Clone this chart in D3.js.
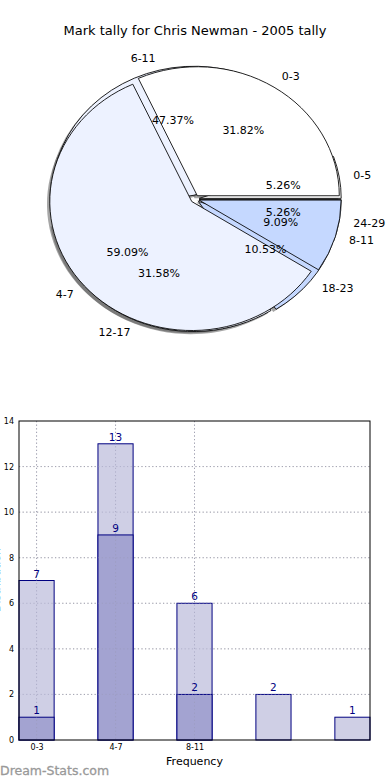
<!DOCTYPE html>
<html><head><meta charset="utf-8">
<script src="https://cdn.jsdelivr.net/npm/d3@7"></script>
<style>body{margin:0;background:#fff}svg{display:block;font-family:"DejaVu Sans",sans-serif}</style>
</head><body><svg id="c" width="390" height="780"></svg>
<script>
const title = "Mark tally for Chris Newman - 2005 tally";
const pieALabels = ["0-3","4-7","8-11"];
const pieAValues = [7,13,2];
const pieAColors = ["#ffffff","#edf2ff","#c5d8ff"];
const pieBLabels = ["0-5","6-11","12-17","18-23","24-29"];
const pieBValues = [1,9,6,2,1];
const pieBColors = ["#ffffff","#edf2ff","#edf2ff","#c5d8ff","#c5d8ff"];

const barCategories = ["0-3","4-7","8-11","",""];
const barLight = [7,13,6,2,1];
const barDark = [1,9,2];
const yTicks = [0,2,4,6,8,10,12,14];
const xLabel = "Frequency";
const yLabel = "Distribution";
const watermark = "Dream-Stats.com";

const svg = d3.select("#c");
svg.append("text").attr("x",195).attr("y",35).attr("text-anchor","middle")
  .attr("font-size",13).text(title);

// ---- pies ----
const cx=195, cy=199, rx=142, ry=129, R=100;
const sx=rx/R, sy=ry/R;
const arc = d3.arc().innerRadius(0).outerRadius(R);
function pieData(vals, explode){
  const total=d3.sum(vals);
  return d3.pie().sort(null).startAngle(Math.PI/2).endAngle(Math.PI/2-2*Math.PI)(vals)
    .map(d=>{
      const mid=(d.startAngle+d.endAngle)/2;
      const th=Math.PI/2-mid;
      return Object.assign(d,{th, pct:d.value/total, ox:explode*rx*Math.cos(th), oy:-explode*ry*Math.sin(th)});
    });
}
const dA = pieData(pieAValues,0.03);
const dB = pieData(pieBValues,0.03);
const pg = svg.append("g");
[dB,dA].forEach((ds)=>{
  ds.forEach((d,i)=>{
    pg.append("path").attr("d",arc(d))
      .attr("transform",`translate(${cx+d.ox-2.8},${cy+d.oy+2.6}) scale(${sx},${sy})`)
      .attr("fill","#4d4d4d").attr("fill-opacity",0.5);
  });
});
function drawPie(ds, colors){
  ds.forEach((d,i)=>{
    pg.append("path").attr("d",arc(d))
      .attr("transform",`translate(${cx+d.ox},${cy+d.oy}) scale(${sx},${sy})`)
      .attr("fill",colors[i]).attr("stroke","#000").attr("stroke-width",1/sx*0.9)
      .attr("stroke-linejoin","round");
  });
}
drawPie(dB,pieBColors);
drawPie(dA,pieAColors);
function labels(ds, labs){
  ds.forEach((d,i)=>{
    const x=cx+d.ox+1.1*rx*Math.cos(d.th), y=cy+d.oy-1.1*ry*Math.sin(d.th);
    svg.append("text").attr("x",x).attr("y",y).attr("dy","0.35em")
      .attr("text-anchor",Math.cos(d.th)>0?"start":"end").attr("font-size",11).text(labs[i]);
    const px=cx+d.ox+0.6*rx*Math.cos(d.th), py=cy+d.oy-0.6*ry*Math.sin(d.th);
    svg.append("text").attr("x",px).attr("y",py).attr("dy","0.35em")
      .attr("text-anchor","middle").attr("font-size",11).text((d.pct*100).toFixed(2)+"%");
  });
}
labels(dB,pieBLabels);
labels(dA,pieALabels);

// ---- bars ----
const L=19,Rr=370,T=421,B=740, bw=0.445;
const x = d3.scaleLinear().domain([0,4.445]).range([L,Rr]);
const y = d3.scaleLinear().domain([0,14]).range([B,T]);
const bg = svg.append("g");
bg.selectAll(".gy").data(yTicks.slice(1,-1)).join("line")
  .attr("x1",L).attr("x2",Rr).attr("y1",d=>y(d)).attr("y2",d=>y(d))
  .attr("stroke","#b0b0b0").attr("stroke-dasharray","1.2,2.4");
const xt = barCategories.map((c,i)=>({c,pos:i+bw/2})).filter(d=>d.c);
bg.selectAll(".gx").data(xt).join("line")
  .attr("x1",d=>x(d.pos)).attr("x2",d=>x(d.pos)).attr("y1",T).attr("y2",B)
  .attr("stroke","#b0b0b0").attr("stroke-dasharray","1.2,2.4");
bg.selectAll(".bl").data(barLight).join("rect")
  .attr("x",(d,i)=>x(i)).attr("width",x(bw)-x(0)).attr("y",d=>y(d)).attr("height",d=>B-y(d))
  .attr("fill","#ccccE4").attr("fill-opacity",0.95).attr("stroke","#000080").attr("stroke-width",1);
bg.selectAll(".bd").data(barDark).join("rect")
  .attr("x",(d,i)=>x(i)).attr("width",x(bw)-x(0)).attr("y",d=>y(d)).attr("height",d=>B-y(d))
  .attr("fill","#a3a3d1").attr("stroke","#000080").attr("stroke-width",1);
bg.selectAll(".gx2").data(xt).join("line")
  .attr("x1",d=>x(d.pos)).attr("x2",d=>x(d.pos)).attr("y1",T).attr("y2",B)
  .attr("stroke","#9a9ab8").attr("stroke-opacity",0.6).attr("stroke-dasharray","1.2,2.4");
bg.selectAll(".gy2").data(yTicks.slice(1,-1)).join("line")
  .attr("x1",L).attr("x2",Rr).attr("y1",d=>y(d)).attr("y2",d=>y(d))
  .attr("stroke","#9a9ab8").attr("stroke-opacity",0.5).attr("stroke-dasharray","1.2,2.4");
bg.selectAll(".tl").data(barLight).join("text")
  .attr("x",(d,i)=>x(i+bw/2)).attr("y",d=>y(d)-3).attr("text-anchor","middle")
  .attr("font-size",10.5).attr("fill","#000080").text(d=>d);
bg.selectAll(".td").data(barDark).join("text")
  .attr("x",(d,i)=>x(i+bw/2)).attr("y",d=>y(d)-3).attr("text-anchor","middle")
  .attr("font-size",10.5).attr("fill","#000080").text(d=>d);
bg.append("rect").attr("x",L).attr("y",T).attr("width",Rr-L).attr("height",B-T)
  .attr("fill","none").attr("stroke","#000").attr("stroke-width",1);
const yAxis = d3.axisLeft(y).tickValues(yTicks).tickSize(0).tickPadding(5);
const ya = bg.append("g").attr("transform",`translate(${L},0)`).call(yAxis);
ya.select(".domain").remove();
ya.selectAll("text").attr("font-size",8).attr("font-family","DejaVu Sans");
const xAxis = d3.axisBottom(x).tickValues(xt.map(d=>d.pos)).tickFormat((d,i)=>xt[i].c).tickSize(0).tickPadding(4);
const xa = bg.append("g").attr("transform",`translate(0,${B})`).call(xAxis);
xa.select(".domain").remove();
xa.selectAll("text").attr("font-size",8).attr("font-family","DejaVu Sans");
svg.append("text").attr("x",(L+Rr)/2).attr("y",765).attr("text-anchor","middle")
  .attr("font-size",11).text(xLabel);
svg.append("text").attr("transform","translate(0,580) rotate(-90)").attr("text-anchor","middle")
  .attr("font-size",11).text(yLabel);
svg.append("text").attr("x",0).attr("y",775).attr("font-size",12.5)
  .attr("fill","#999").attr("stroke","#999").attr("stroke-width",0.3).text(watermark);
</script></body></html>
